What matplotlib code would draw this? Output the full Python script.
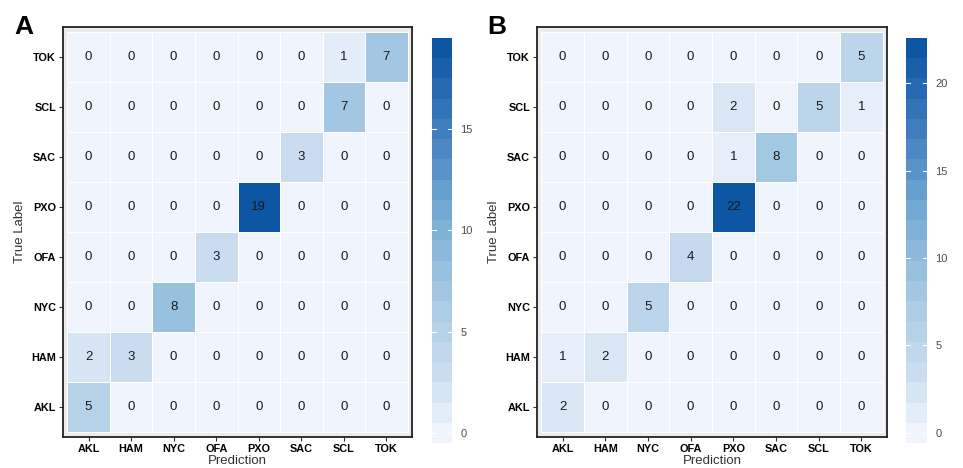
import numpy as np
import matplotlib.pyplot as plt
from matplotlib.colors import LinearSegmentedColormap

plt.rcParams['font.family'] = ['Liberation Sans', 'DejaVu Sans']

# 城市标签 (列: 预测, 行: 真实, 行从上到下 TOK..AKL)
labels = ['AKL', 'HAM', 'NYC', 'OFA', 'PXO', 'SAC', 'SCL', 'TOK']
rows_top_down = ['TOK', 'SCL', 'SAC', 'PXO', 'OFA', 'NYC', 'HAM', 'AKL']

cm_a = [
    [0, 0, 0, 0, 0, 0, 1, 7],
    [0, 0, 0, 0, 0, 0, 7, 0],
    [0, 0, 0, 0, 0, 3, 0, 0],
    [0, 0, 0, 0, 19, 0, 0, 0],
    [0, 0, 0, 3, 0, 0, 0, 0],
    [0, 0, 8, 0, 0, 0, 0, 0],
    [2, 3, 0, 0, 0, 0, 0, 0],
    [5, 0, 0, 0, 0, 0, 0, 0],
]
cm_b = [
    [0, 0, 0, 0, 0, 0, 0, 5],
    [0, 0, 0, 0, 2, 0, 5, 1],
    [0, 0, 0, 0, 1, 8, 0, 0],
    [0, 0, 0, 0, 22, 0, 0, 0],
    [0, 0, 0, 4, 0, 0, 0, 0],
    [0, 0, 5, 0, 0, 0, 0, 0],
    [1, 2, 0, 0, 0, 0, 0, 0],
    [2, 0, 0, 0, 0, 0, 0, 0],
]
ticks_a = [0, 5, 10, 15]
ticks_b = [0, 5, 10, 15, 20]

cmap = LinearSegmentedColormap.from_list('gg_blues', [
    (0.0, '#F0F5FD'), (0.15, '#CADDF0'), (0.4, '#9DC4E0'),
    (0.6, '#6FA6D2'), (0.8, '#3E7BBE'), (1.0, '#0D56A3')])

W, H = 963, 468
fig = plt.figure(figsize=(W / 100, H / 100), dpi=100)


def px(x0, y0, x1, y1):
    return [x0 / W, 1 - y1 / H, (x1 - x0) / W, (y1 - y0) / H]


def draw_panel(mat, ticks, ax_box, cb_box, letter, letter_x):
    mat = np.array(mat)[::-1]  # 底部为 AKL
    vmax = mat.max()
    ax = fig.add_axes(px(*ax_box))
    ax.set_facecolor('#EBEBEB')
    ax.pcolormesh(np.arange(9) - 0.5, np.arange(9) - 0.5, mat, cmap=cmap,
                  vmin=0, vmax=vmax, edgecolors='white', linewidth=0.6)
    for i in range(8):
        for j in range(8):
            ax.text(j, i, str(mat[i, j]), ha='center', va='center',
                    fontsize=9.5, color='#1a1a1a')
    ax.set_xlim(-0.6, 7.6)
    ax.set_ylim(-0.6, 7.6)
    ax.set_xticks(range(8))
    ax.set_xticklabels(labels, fontweight='bold', fontsize=7.8)
    ax.set_yticks(range(8))
    ax.set_yticklabels(rows_top_down[::-1], fontweight='bold', fontsize=7.8)
    ax.tick_params(length=3, width=0.8, color='#333333', pad=2)
    for s in ax.spines.values():
        s.set_linewidth(1.3)
        s.set_color('#222222')
    ax.set_xlabel('Prediction', fontsize=9.5, color='#333333', labelpad=1)
    ax.set_ylabel('True Label', fontsize=9.5, color='#333333', labelpad=4)
    fig.text(letter_x / W, 1 - 34 / H, letter, fontsize=19, fontweight='bold',
             ha='left', va='baseline')

    # 色条 (20 段, 类似 ggplot)
    cax = fig.add_axes(px(*cb_box))
    vals = np.linspace(0, vmax, 20)
    step = vals[1] - vals[0]
    cax.bar(np.zeros(20), step, bottom=vals - step / 2, width=1.0,
            color=cmap(vals / vmax), linewidth=0)
    cax.set_xlim(-0.5, 0.5)
    cax.set_ylim(-step / 2, vmax + step / 2)
    for t in ticks:
        cax.plot([-0.5, -0.3], [t, t], color='white', lw=0.8)
        cax.plot([0.3, 0.5], [t, t], color='white', lw=0.8)
    cax.set_xticks([])
    cax.yaxis.tick_right()
    cax.set_yticks(ticks)
    cax.tick_params(axis='y', length=0, labelsize=8, labelcolor='#4d4d4d', pad=6)
    for s in cax.spines.values():
        s.set_visible(False)


draw_panel(cm_a, ticks_a, (63, 27, 412, 437), (432, 38, 452, 443), 'A', 14)
draw_panel(cm_b, ticks_b, (537, 27, 887, 437), (906, 38, 927, 443), 'B', 487)

fig.savefig('out.png', dpi=100)
